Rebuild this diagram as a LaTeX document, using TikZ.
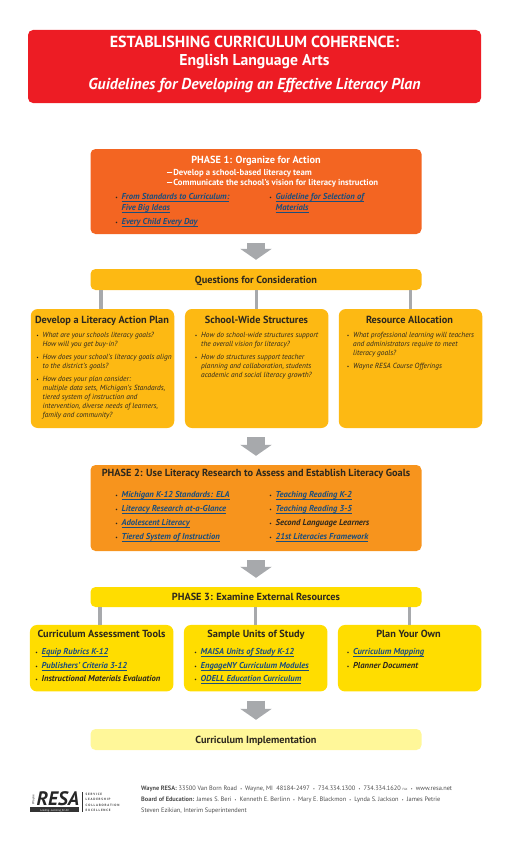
\documentclass[tikz,border=0pt]{standalone}
\usepackage{fontspec}
\setmainfont{PT Sans}
\usepackage{xcolor}
\usetikzlibrary{arrows.meta}
\usetikzlibrary{math}
\definecolor{myred}{RGB}{237,28,36}
\definecolor{myorange}{RGB}{243,101,34}
\definecolor{myamber}{RGB}{253,185,19}
\definecolor{mytangerine}{RGB}{247,148,29}
\definecolor{myyellow}{RGB}{255,221,0}
\definecolor{mypale}{RGB}{255,247,153}
\definecolor{mygray}{RGB}{167,169,172}
\definecolor{mylink}{RGB}{27,78,125}
\definecolor{myink}{RGB}{45,40,30}
\newcommand{\lnk}[1]{\textcolor{mylink}{\underline{\raisebox{0pt}[\height][0pt]{#1}}}}
\newcommand{\bul}{\llap{{\fontsize{5}{5}\selectfont\textbullet}\hspace{4pt}}}
\newcommand{\dotsep}{\enspace{\fontsize{4}{4}\selectfont\textbullet}\enspace}
\tikzset{
  box/.style={inner sep=0,rounded corners=5pt},
  card/.style={inner sep=0,rounded corners=7pt},
  head/.style={inner sep=0,text=myink,text height=8pt,text depth=1pt,font=\fontsize{10.3}{12}\selectfont\bfseries},
  white head/.style={head,text=white},
  banner/.style={inner sep=0,text=white,text height=13pt,text depth=1.8pt},
  item/.style={inner sep=0,anchor=north west,align=left,text=myink,font=\fontsize{7.4}{9}\selectfont\itshape},
  link/.style={inner sep=0,anchor=north west,align=left,text=myink,font=\fontsize{8.6}{11}\selectfont\bfseries\itshape},
  foot/.style={inner sep=0,anchor=west,text=black!70,font=\fontsize{6.35}{7}\selectfont},
  motto/.style={inner sep=0,anchor=west,text=black!75,font=\fontsize{3.2}{4}\selectfont\bfseries},
  blockarrow/.style={mygray,line width=18pt,shorten <=9pt,shorten >=9pt,-{Triangle[width=31pt,length=11pt]}},
  stem/.style={mygray,line width=3.5pt},
}
\begin{document}
\begin{tikzpicture}[x=1pt,y=-1pt]
\tikzmath{
\wide=331;
\cardw=143.5;
}
\useasboundingbox (0,0) rectangle (512,843);
%banner
\node[box,fill=myred,minimum width=453pt,minimum height=73pt] (title) at (254.5,66.5) {};
\node[banner,font=\fontsize{16}{18}\selectfont\bfseries] (titlea) at (254.5,41.7) {ESTABLISHING CURRICULUM COHERENCE:};
\node[banner,font=\fontsize{15.7}{18}\selectfont\bfseries] (titleb) at (254.5,60) {English Language Arts};
\node[banner,font=\fontsize{15.8}{18}\selectfont\bfseries\itshape] (titlec) at (254.5,84) {Guidelines for Developing an Effective Literacy Plan};

%boxes
\node[box,head,fill=myorange,minimum width=\wide pt,minimum height=85pt] (phase1) at (256,191.5) {};
\node[box,head,fill=myamber,minimum width=\wide pt,minimum height=21pt] (questions) at (256,279.5) {Questions for Consideration};
\node[card,fill=myamber,minimum width=\cardw pt,minimum height=119pt] (plan) at (102.5,368.5) {};
\node[card,fill=myamber,minimum width=\cardw pt,minimum height=119pt] (structures) at (256.7,368.5) {};
\node[card,fill=myamber,minimum width=\cardw pt,minimum height=119pt] (allocation) at (410.5,368.5) {};
\node[box,fill=mytangerine,minimum width=\wide pt,minimum height=86pt] (phase2) at (256,508) {};
\node[box,head,fill=myyellow,minimum width=\wide pt,minimum height=20pt] (phase3) at (256,597) {PHASE 3: Examine External Resources};
\node[card,fill=myyellow,minimum width=\cardw pt,minimum height=66.5pt] (tools) at (101.7,658.2) {};
\node[card,fill=myyellow,minimum width=\cardw pt,minimum height=66.5pt] (units) at (255.7,658.2) {};
\node[card,fill=myyellow,minimum width=\cardw pt,minimum height=66.5pt] (own) at (409.7,658.2) {};
\node[box,head,fill=mypale,minimum width=\wide pt,minimum height=21pt] (implement) at (256,739.5) {Curriculum Implementation};

%arrows
\draw[blockarrow] (phase1.south) -- (phase1.south |- questions.north);
\draw[blockarrow] (structures.south -| phase2.north) -- (phase2.north);
\draw[blockarrow] (phase2.south) -- (phase2.south |- phase3.north);
\draw[blockarrow] (units.south -| implement.north) -- (implement.north);

\draw[stem] ([xshift=-1.5pt]plan.north) -- ([xshift=-1.5pt]plan.north |- questions.south);
\draw[stem] (structures.north) -- (structures.north |- questions.south);
\draw[stem] (allocation.north) -- (allocation.north |- questions.south);
\draw[stem] ([xshift=-1.5pt]tools.north) -- ([xshift=-1.5pt]tools.north |- phase3.south);
\draw[stem] (units.north) -- (units.north |- phase3.south);
\draw[stem] (own.north) -- (own.north |- phase3.south);

%phase 1
\node[white head] (phaseonehead) at (256,159.5) {PHASE 1: Organize for Action};
\node[inner sep=0,anchor=north west,align=left,text=white,font=\fontsize{8.7}{10}\selectfont\bfseries] (phaseonesub) at (166,169) {---Develop a school-based literacy team\\---Communicate the school’s vision for literacy instruction};
\node[link] (standards) at (121.5,193.5) {\bul\lnk{From Standards to Curriculum:}\\\lnk{Five Big Ideas}};
\node[link] (everychild) at (121.5,218) {\bul\lnk{Every Child Every Day}};
\node[link] (selection) at (275.5,193.5) {\bul\lnk{Guideline for Selection of}\\\lnk{Materials}};

%questions
\node[head] (planhead) at (102,319.5) {Develop a Literacy Action Plan};
\node[item] (plana) at (42.5,332.5) {\bul What are your schools literacy goals?\\How will you get buy-in?};
\node[item] (planb) at (42.5,354.5) {\bul How does your school’s literacy goals align\\to the district’s goals?};
\node[item] (planc) at (42.5,376.5) {\bul How does your plan consider:\\multiple data sets, Michigan’s Standards,\\tiered system of instruction and\\intervention, diverse needs of learners,\\family and community?};
\node[head] (structurehead) at (256.5,319.5) {School-Wide Structures};
\node[item] (structurea) at (201,332.5) {\bul How do school-wide structures support\\the overall vision for literacy?};
\node[item] (structureb) at (201,354.5) {\bul How do structures support teacher\\planning and collaboration, students\\academic and social literacy growth?};
\node[head] (allocationhead) at (409.5,319.5) {Resource Allocation};
\node[item] (allocationa) at (353,332.5) {\bul What professional learning will teachers\\and administrators require to meet\\literacy goals?};
\node[item] (allocationb) at (353,363.5) {\bul Wayne RESA Course Offerings};

%phase 2
\node[head] (phasetwohead) at (256,472.5) {PHASE 2: Use Literacy Research to Assess and Establish Literacy Goals};
\node[link] (michigan) at (121.5,491.5) {\bul\lnk{Michigan K-12 Standards: ELA}};
\node[link] (glance) at (121.5,505.5) {\bul\lnk{Literacy Research at-a-Glance}};
\node[link] (adolescent) at (121.5,519.5) {\bul\lnk{Adolescent Literacy}};
\node[link] (tiered) at (121.5,533.5) {\bul\lnk{Tiered System of Instruction}};
\node[link] (readinga) at (275.5,491.5) {\bul\lnk{Teaching Reading K-2}};
\node[link] (readingb) at (275.5,505.5) {\bul\lnk{Teaching Reading 3-5}};
\node[link] (second) at (275.5,519.5) {\bul Second Language Learners};
\node[link] (twentyfirst) at (275.5,533.5) {\bul\lnk{21st Literacies Framework}};

%phase 3
\node[head] (toolshead) at (101.5,633.5) {Curriculum Assessment Tools};
\node[link] (equip) at (41.5,648.5) {\bul\lnk{Equip Rubrics K-12}};
\node[link] (publishers) at (41.5,662) {\bul\lnk{Publishers’ Criteria 3-12}};
\node[link] (materials) at (41.5,675.5) {\bul Instructional Materials Evaluation};
\node[head] (unitshead) at (256,633.5) {Sample Units of Study};
\node[link] (maisa) at (200.5,648.5) {\bul\lnk{MAISA Units of Study K-12}};
\node[link] (engage) at (200.5,662) {\bul\lnk{EngageNY Curriculum Modules}};
\node[link] (odell) at (200.5,675.5) {\bul\lnk{ODELL Education Curriculum}};
\node[head] (ownhead) at (408.5,633.5) {Plan Your Own};
\node[link] (mapping) at (353,648.5) {\bul\lnk{Curriculum Mapping}};
\node[link] (planner) at (353,662) {\bul Planner Document};

%logo
\fill[black!80] (30,806.8) rectangle (79,812);
\node[inner sep=0,anchor=base west,text=black!85,text height=13pt,text depth=0pt,font=\fontsize{19.5}{20}\selectfont\bfseries\itshape] (resa) at (36.5,805.8) {RESA};
\node[inner sep=0,rotate=90,text=black!60,font=\fontsize{3.2}{4}\selectfont\bfseries] (wayne) at (33.5,799.5) {Wayne};
\node[inner sep=0,text=white,text height=2.2pt,text depth=0pt,font=\fontsize{2.8}{3}\selectfont\itshape] (leading) at (54.5,810) {Leading...Learning for All};
\draw[black!80,line width=0.5pt] (82.5,792) -- (82.5,812);
\node[motto] (service) at (85.5,794.5) {S E R V I C E};
\node[motto] (leadership) at (85.5,799.5) {L E A D E R S H I P};
\node[motto] (collaboration) at (85.5,805) {C O L L A B O R A T I O N};
\node[motto] (excellence) at (85.5,810.5) {E X C E L L E N C E};

%footer
\node[foot] (addr) at (141,789) {\textbf{Wayne RESA:} 33500 Van Born Road\dotsep Wayne, MI\ \ 48184-2497\dotsep 734.334.1300\dotsep 734.334.1620 {\fontsize{3}{4}\selectfont FAX}\dotsep www.resa.net};
\node[foot] (board) at (141,800) {\textbf{Board of Education:} James S. Beri\dotsep Kenneth E. Berlinn\dotsep Mary E. Blackmon\dotsep Lynda S. Jackson\dotsep James Petrie};
\node[foot] (super) at (141,811) {Steven Ezikian, Interim Superintendent};
\end{tikzpicture}
\end{document}
